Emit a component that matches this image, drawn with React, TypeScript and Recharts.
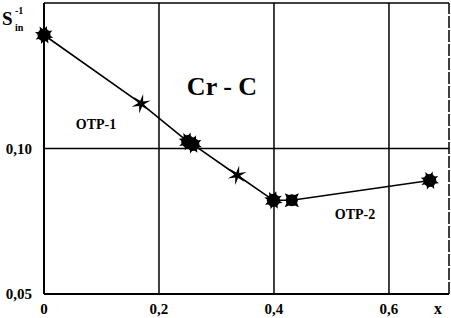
import React from "react";
import { LineChart, Line, XAxis, YAxis, ReferenceLine } from "recharts";

const xValues = [0, 0.169, 0.25, 0.259, 0.336, 0.399, 0.431, 0.671];
const yValues = [0.139, 0.1154, 0.1024, 0.1014, 0.0908, 0.0822, 0.0822, 0.089];
const markerKinds = ["blob", "star", "blob", "blob", "star", "blob", "xblob", "blob"];
const xTicks = [0, 0.2, 0.4, 0.6];
const yTicks = [0.05, 0.1];
const xGrid = [0.2, 0.4, 0.6];
const yGrid = [0.1];
const xMax = 0.7044;
const yDomain = [0.05, 0.15];

const data = xValues.map((x, i) => ({ x, y: yValues[i], kind: markerKinds[i] }));

function starPoints(cx: number, cy: number, n: number, ro: number, ri: number, rot: number) {
  const pts: string[] = [];
  for (let i = 0; i < n * 2; i++) {
    const r = i % 2 === 0 ? ro : ri;
    const a = rot + (Math.PI * i) / n;
    pts.push(`${cx + r * Math.cos(a)},${cy + r * Math.sin(a)}`);
  }
  return pts.join(" ");
}

const Marker = (props: any) => {
  const { cx, cy, payload, index } = props;
  if (cx == null || cy == null) return null;
  const kind = payload.kind;
  if (kind === "star") {
    return <polygon key={index} points={starPoints(cx, cy, 6, 10, 3, -Math.PI / 2 + 0.2)} fill="#000" />;
  }
  if (kind === "xblob") {
    return (
      <g key={index}>
        <circle cx={cx} cy={cy} r={6} fill="#000" />
        <polygon points={starPoints(cx, cy, 4, 10, 4, Math.PI / 4)} fill="#000" />
      </g>
    );
  }
  return (
    <g key={index}>
      <circle cx={cx} cy={cy} r={6.5} fill="#000" />
      <polygon points={starPoints(cx, cy, 8, 9.5, 5, 0.3)} fill="#000" />
    </g>
  );
};

const tickStyle = { fontFamily: "Liberation Serif, Times New Roman, serif", fontWeight: 700, fontSize: 15, fill: "#000" };

export default function App() {
  return (
    <div style={{ position: "absolute", left: 0, top: 0, width: 451, height: 318, background: "#fff" }}>
      <LineChart width={451} height={318} data={data} margin={{ top: 3, right: 2, bottom: 0, left: 0 }}>
        <XAxis
          dataKey="x"
          type="number"
          domain={[0, xMax]}
          ticks={xTicks}
          tickFormatter={(v: number) => (v === 0 ? "0" : v.toFixed(1).replace(".", ","))}
          tick={tickStyle}
          tickLine={false}
          axisLine={{ stroke: "#000", strokeWidth: 2 }}
          height={24}
          tickMargin={3}
          interval={0}
        />
        <YAxis
          dataKey="y"
          type="number"
          domain={yDomain}
          ticks={yTicks}
          tickFormatter={(v: number) => v.toFixed(2).replace(".", ",")}
          tick={tickStyle}
          tickLine={false}
          axisLine={{ stroke: "#000", strokeWidth: 2 }}
          width={44}
          tickMargin={6}
          interval={0}
        />
        {xGrid.map((g) => (
          <ReferenceLine key={"vx" + g} x={g} stroke="#000" strokeWidth={1.5} />
        ))}
        {yGrid.map((g) => (
          <ReferenceLine key={"hy" + g} y={g} stroke="#000" strokeWidth={1.5} />
        ))}
        <ReferenceLine y={yDomain[1]} stroke="#000" strokeWidth={1.5} />
        <ReferenceLine x={xMax} stroke="#000" strokeWidth={1.5} strokeDasharray="12 2" />
        <Line
          dataKey="y"
          stroke="#000"
          strokeWidth={1.6}
          dot={<Marker />}
          activeDot={false}
          isAnimationActive={false}
        />
      </LineChart>
      <svg
        width={451}
        height={318}
        style={{ position: "absolute", left: 0, top: 0, pointerEvents: "none" }}
        fontFamily="Liberation Serif, Times New Roman, serif"
        fontWeight={700}
      >
        <text x={222} y={95} fontSize={26} textAnchor="middle">Cr - C</text>
        <text x={96} y={129} fontSize={14} textAnchor="middle">OTP-1</text>
        <text x={355} y={219} fontSize={14} textAnchor="middle">OTP-2</text>
        <text x={438} y={314} fontSize={16} textAnchor="middle">x</text>
        <text x={2} y={25} fontSize={19}>S</text>
        <text x={15} y={31} fontSize={10}>in</text>
        <text x={15} y={14} fontSize={10}>-1</text>
      </svg>
    </div>
  );
}
